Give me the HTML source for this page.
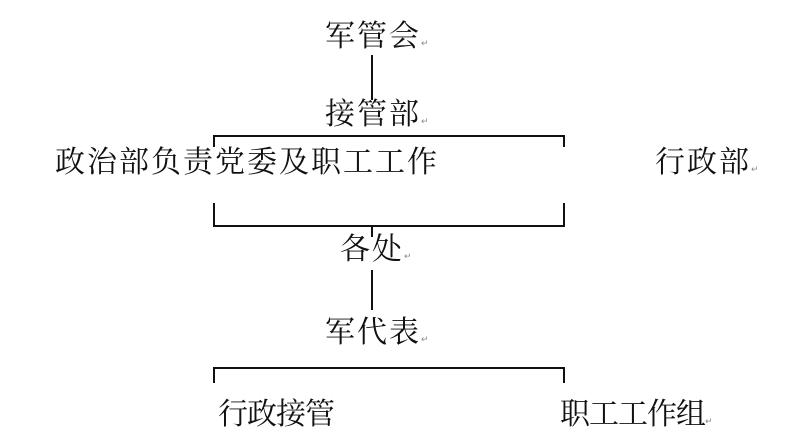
<!DOCTYPE html>
<html><head><meta charset="utf-8"><style>
body{margin:0;width:798px;height:443px;background:#fff;position:relative;overflow:hidden;font-family:"Liberation Serif","Noto Serif CJK SC","Noto Sans CJK SC",serif;color:#111}
.t{position:absolute;font-size:30px;line-height:34px;white-space:nowrap}
.r{font-size:9px;color:#888;font-family:"Liberation Sans",sans-serif}
.l{position:absolute;background:#111}
</style></head><body>
<div class="l" style="left:371px;top:55px;width:2px;height:45px"></div>
<div class="l" style="left:213px;top:135px;width:352px;height:2px"></div>
<div class="l" style="left:213px;top:135px;width:2px;height:12px"></div>
<div class="l" style="left:563px;top:135px;width:2px;height:12px"></div>
<div class="l" style="left:213px;top:225px;width:352px;height:2px"></div>
<div class="l" style="left:213px;top:203px;width:2px;height:24px"></div>
<div class="l" style="left:563px;top:203px;width:2px;height:24px"></div>
<div class="l" style="left:371px;top:225px;width:2px;height:12px"></div>
<div class="l" style="left:371px;top:270px;width:2px;height:40px"></div>
<div class="l" style="left:213px;top:367px;width:352px;height:2px"></div>
<div class="l" style="left:213px;top:367px;width:2px;height:16px"></div>
<div class="l" style="left:563px;top:367px;width:2px;height:16px"></div>

<div class="t" style="left:325px;top:20px;letter-spacing:2px">军管会<span class="r">↵</span></div>
<div class="t" style="left:325px;top:98px;letter-spacing:2px">接管部<span class="r">↵</span></div>
<div class="t" style="left:55px;top:146px;letter-spacing:2px">政治部负责党委及职工工作</div>
<div class="t" style="left:655px;top:146px;letter-spacing:2px">行政部<span class="r">↵</span></div>
<div class="t" style="left:340px;top:233px;letter-spacing:2px">各处<span class="r">↵</span></div>
<div class="t" style="left:325px;top:316px;letter-spacing:2px">军代表<span class="r">↵</span></div>
<div class="t" style="left:218px;top:398px;letter-spacing:-1px">行政接管</div>
<div class="t" style="left:560px;top:398px;letter-spacing:-1px">职工工作组<span class="r">↵</span></div>
</body></html>
